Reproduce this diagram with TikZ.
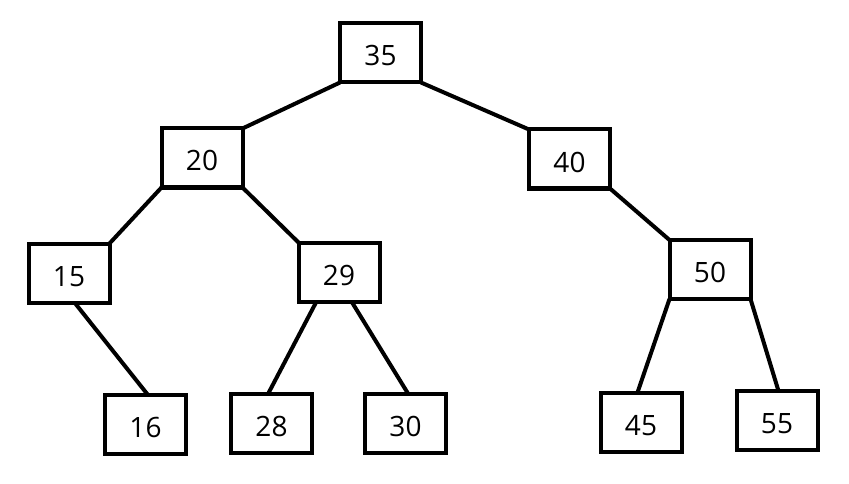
\documentclass[tikz,border=0pt]{standalone}
\usepackage{fontspec}
\setmainfont{Open Sans}
\usetikzlibrary{calc}
\begin{document}
\begin{tikzpicture}[x=1pt,y=-1pt,
  keybox/.style={draw=black,line width=4pt,fill=white,minimum width=81pt,minimum height=59pt,inner sep=0pt,outer sep=0pt,text height=26pt,text depth=0pt,font=\fontsize{28}{34}\selectfont},
  edge/.style={draw=black,line width=4pt}]
\useasboundingbox (0,0) rectangle (849,484);
\node[keybox] (n35) at (380.5,53) {35};
\node[keybox] (n20) at (202,158) {20};
\node[keybox] (n40) at (569.5,159) {40};
\node[keybox] (n15) at (69,273) {15};
\node[keybox] (n29) at (339,272) {29};
\node[keybox] (n50) at (710,269.5) {50};
\node[keybox] (n16) at (145.5,424.5) {16};
\node[keybox] (n28) at (271.5,423.5) {28};
\node[keybox] (n30) at (405.5,423) {30};
\node[keybox] (n45) at (641,422) {45};
\node[keybox] (n55) at (777,420.5) {55};
\draw[edge] (n35.south west) -- (n20.north east);
\draw[edge] (n35.south east) -- (n40.north west);
\draw[edge] (n20.south west) -- (n15.north east);
\draw[edge] (n20.south east) -- (n29.north west);
\draw[edge] ($(n15.south west)+(46,0)$) -- ($(n16.north west)+(43,0)$);
\draw[edge] ($(n29.south west)+(18,0)$) -- ($(n28.north west)+(37,0)$);
\draw[edge] ($(n29.south west)+(53,0)$) -- ($(n30.north west)+(43,0)$);
\draw[edge] (n40.south east) -- (n50.north west);
\draw[edge] (n50.south west) -- ($(n45.north west)+(37,0)$);
\draw[edge] (n50.south east) -- ($(n55.north west)+(42,0)$);
\end{tikzpicture}
\end{document}
